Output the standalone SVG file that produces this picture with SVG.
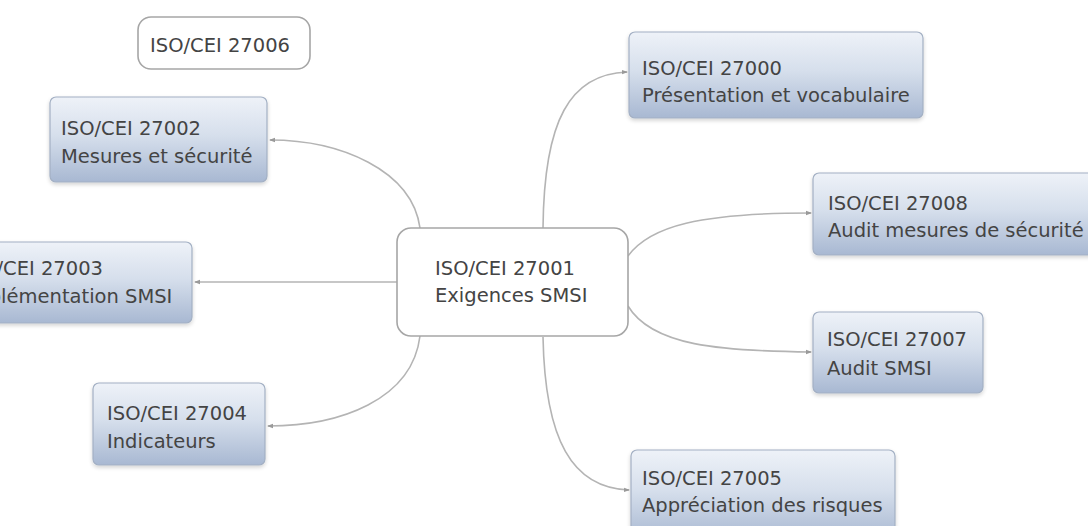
<svg xmlns="http://www.w3.org/2000/svg" width="1088" height="526" viewBox="0 0 1088 526">
  <defs>
    <linearGradient id="topicFill" x1="0" y1="0" x2="0" y2="1">
      <stop offset="0" stop-color="#eef2f8"/>
      <stop offset="0.45" stop-color="#d6dfec"/>
      <stop offset="1" stop-color="#a8b8d2"/>
    </linearGradient>
    <filter id="soft" x="-10%" y="-10%" width="120%" height="130%">
      <feGaussianBlur in="SourceAlpha" stdDeviation="2"/>
      <feOffset dy="2"/>
      <feComponentTransfer><feFuncA type="linear" slope="0.18"/></feComponentTransfer>
      <feMerge><feMergeNode/><feMergeNode in="SourceGraphic"/></feMerge>
    </filter>
    <marker id="tip" viewBox="0 0 6 6" refX="5" refY="3" markerWidth="6" markerHeight="6" orient="auto" markerUnits="userSpaceOnUse">
      <path d="M0,0.8 L6,3 L0,5.2 z" fill="#9a9a9a"/>
    </marker>
    <style>
      .topic { fill: url(#topicFill); stroke: #a3b0c4; stroke-width: 1.2; filter: url(#soft); }
      .plain { fill: #ffffff; stroke: #a6a6a6; stroke-width: 1.6; }
      .label { font-family: "DejaVu Sans", "Verdana", sans-serif; font-size: 19.5px; fill: #444444; }
      .link { fill: none; stroke: #b4b4b4; stroke-width: 1.6; marker-end: url(#tip); }
    </style>
  </defs>

  <rect width="1088" height="526" fill="#ffffff"/>

  <!-- branches from the central topic -->
  <g id="connectors">
    <path class="link" d="M420,228 C412,170 340,140 270,140"/>
    <path class="link" d="M397,282 L195,282"/>
    <path class="link" d="M420,336 C412,400 340,426 268,426"/>
    <path class="link" d="M543,228 C544,120 570,74 627,72"/>
    <path class="link" d="M628,256 C650,226 700,213 811,213"/>
    <path class="link" d="M628,306 C652,346 720,351 811,352"/>
    <path class="link" d="M543,337 C545,440 572,488 629,490"/>
  </g>

  <g id="n27006">
    <rect class="plain" x="138" y="17" width="172" height="52" rx="13"/>
    <text class="label" x="150" y="52">ISO/CEI 27006</text>
  </g>

  <g id="n27002">
    <rect class="topic" x="50" y="97" width="217" height="85" rx="6"/>
    <text class="label" x="61" y="135">ISO/CEI 27002</text>
    <text class="label" x="61" y="163">Mesures et sécurité</text>
  </g>

  <!-- this topic runs past the left edge of the canvas -->
  <g id="n27003">
    <rect class="topic" x="-70" y="242" width="262" height="81" rx="6"/>
    <text class="label" x="-37" y="275">ISO/CEI 27003</text>
    <text class="label" x="-36" y="303">Implémentation SMSI</text>
  </g>

  <g id="n27004">
    <rect class="topic" x="93" y="383" width="172" height="82" rx="6"/>
    <text class="label" x="107" y="420">ISO/CEI 27004</text>
    <text class="label" x="107" y="448">Indicateurs</text>
  </g>

  <g id="n27001">
    <rect class="plain" x="397" y="228" width="231" height="108" rx="14"/>
    <text class="label" x="435" y="275">ISO/CEI 27001</text>
    <text class="label" x="435" y="302">Exigences SMSI</text>
  </g>

  <g id="n27000">
    <rect class="topic" x="629" y="32" width="294" height="86" rx="6"/>
    <text class="label" x="642" y="75">ISO/CEI 27000</text>
    <text class="label" x="642" y="102">Présentation et vocabulaire</text>
  </g>

  <g id="n27008">
    <rect class="topic" x="813" y="173" width="290" height="82" rx="6"/>
    <text class="label" x="828" y="210">ISO/CEI 27008</text>
    <text class="label" x="828" y="237">Audit mesures de sécurité</text>
  </g>

  <g id="n27007">
    <rect class="topic" x="813" y="312" width="170" height="81" rx="6"/>
    <text class="label" x="827" y="346">ISO/CEI 27007</text>
    <text class="label" x="827" y="375">Audit SMSI</text>
  </g>

  <g id="n27005">
    <rect class="topic" x="631" y="450" width="264" height="90" rx="6"/>
    <text class="label" x="642" y="485">ISO/CEI 27005</text>
    <text class="label" x="642" y="512">Appréciation des risques</text>
  </g>
</svg>
